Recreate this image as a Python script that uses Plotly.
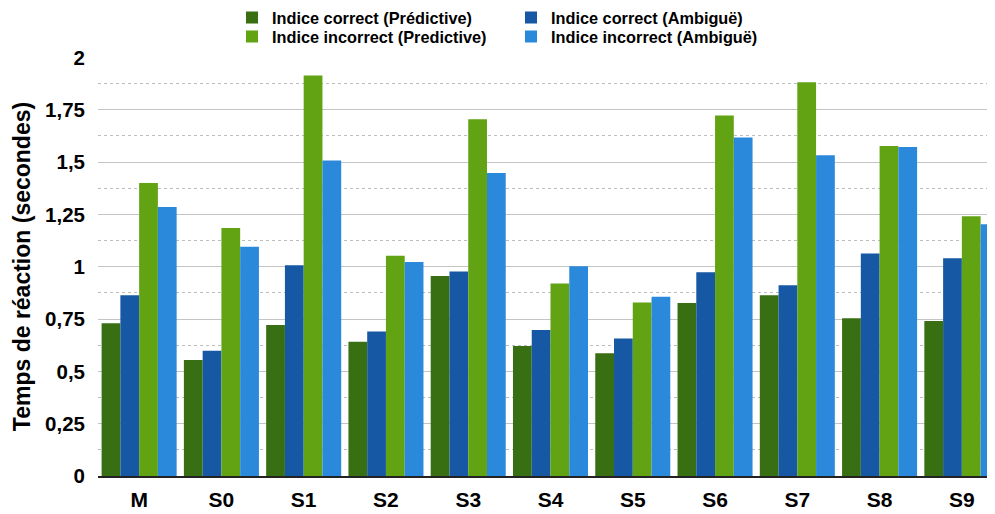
import plotly.graph_objects as go

categories = ['M', 'S0', 'S1', 'S2', 'S3', 'S4', 'S5', 'S6', 'S7', 'S8', 'S9']

correct_pred = [0.73, 0.554, 0.721, 0.641, 0.956, 0.621, 0.586, 0.827, 0.864, 0.754, 0.741]
correct_amb = [0.864, 0.598, 1.007, 0.691, 0.977, 0.697, 0.657, 0.974, 0.912, 1.063, 1.04]
incorrect_pred = [1.40, 1.185, 1.914, 1.052, 1.704, 0.920, 0.829, 1.723, 1.881, 1.577, 1.241]
incorrect_amb = [1.285, 1.095, 1.508, 1.023, 1.448, 1.002, 0.856, 1.617, 1.532, 1.572, 1.203]

y_ticks = [0, 0.25, 0.5, 0.75, 1, 1.25, 1.5, 1.75, 2]
y_labels = ['0', '0,25', '0,5', '0,75', '1', '1,25', '1,5', '1,75', '2']

FONT = 'Liberation Sans'
# page body adds an 8px offset, so the margins are shifted to compensate
W, H = 995, 514
L, T, B = 90, 49, 46
PW, PH = W - L, H - T - B

# (name, values, colour, legend id, legend item left px, legend row centre px)
series = [
    ('Indice correct (Prédictive)', correct_pred, '#376f12', 'legend', 224, 10),
    ('Indice correct (Ambiguë)', correct_amb, '#1658a3', 'legend2', 503, 10),
    ('Indice incorrect (Predictive)', incorrect_pred, '#62a313', 'legend3', 224, 29),
    ('Indice incorrect (Ambiguë)', incorrect_amb, '#2b89dc', 'legend4', 503, 29),
]

fig = go.Figure()
legends = {}
for name, vals, color, leg, lx, ly in series:
    fig.add_trace(go.Bar(
        x=categories,
        y=vals,
        name=name,
        legend=leg,
        showlegend=True,
        marker=dict(color=color, line=dict(width=0)),
    ))
    legends[leg] = dict(
        x=(lx - L) / PW,
        y=1 + (T - ly) / PH,
        xanchor='left',
        yanchor='middle',
        font=dict(size=16.3, family=FONT, weight='bold'),
        itemclick=False,
        bgcolor='rgba(0,0,0,0)',
        borderwidth=0,
        visible=True,
    )

fig.update_layout(
    width=W,
    height=H,
    autosize=False,
    showlegend=True,
    barmode='group',
    bargap=0.088,
    bargroupgap=0,
    margin=dict(l=L, r=0, t=T, b=B, autoexpand=False),
    plot_bgcolor='white',
    paper_bgcolor='white',
    font=dict(family=FONT, color='black', weight='bold'),
    xaxis=dict(
        range=[-0.5, 10.5],
        showgrid=False,
        showline=True,
        linecolor='#222',
        linewidth=1.5,
        ticks='',
        ticklabelstandoff=4,
        tickfont=dict(size=21, family=FONT, weight='bold'),
    ),
    yaxis=dict(
        range=[0, 2.002],
        tickvals=y_ticks,
        ticktext=y_labels,
        showgrid=True,
        gridcolor='#c4c4c4',
        gridwidth=1.2,
        zeroline=False,
        showline=False,
        ticks='',
        ticklabelstandoff=12,
        tickfont=dict(size=20.5, family=FONT, weight='bold'),
        minor=dict(
            tickvals=[0.125, 0.375, 0.625, 0.875, 1.125, 1.375, 1.625, 1.875],
            showgrid=True,
            gridcolor='#bdbdbd',
            griddash='dot',
            gridwidth=1,
        ),
        title=dict(
            text='Temps de réaction (secondes)',
            font=dict(size=23, family=FONT, weight='bold'),
            standoff=8,
        ),
    ),
    **legends,
)

fig.write_html("out.html")
